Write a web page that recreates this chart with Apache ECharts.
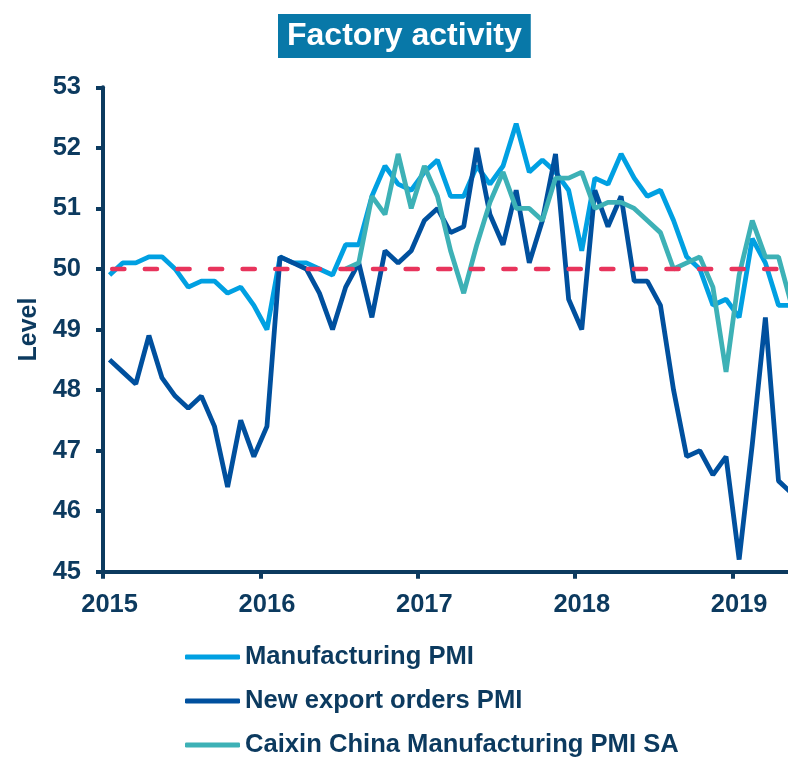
<!DOCTYPE html>
<html>
<head>
<meta charset="utf-8">
<script src="https://cdn.jsdelivr.net/npm/echarts@6/dist/echarts.min.js"></script>
<style>
html, body { margin: 0; padding: 0; background: #ffffff; }
#chart { width: 788px; height: 759px; }
</style>
</head>
<body>
<div id="chart"></div>
<script>
// ---- Data (monthly readings, first point = first month shown) ----
const startYear = 2015;
const yearTicks = [2015, 2016, 2017, 2018, 2019];
const yTicks = [45, 46, 47, 48, 49, 50, 51, 52, 53];
const seriesNames = ['Manufacturing PMI', 'New export orders PMI', 'Caixin China Manufacturing PMI SA'];

const manufacturingPMI = [
  49.9, 50.1, 50.1, 50.2, 50.2, 50.0, 49.7, 49.8, 49.8, 49.6, 49.7,
  49.4, 49.0, 50.2, 50.1, 50.1, 50.0, 49.9, 50.4, 50.4, 51.2, 51.7, 51.4,
  51.3, 51.6, 51.8, 51.2, 51.2, 51.7, 51.4, 51.7, 52.4, 51.6, 51.8, 51.6,
  51.3, 50.3, 51.5, 51.4, 51.9, 51.5, 51.2, 51.3, 50.8, 50.2, 50.0, 49.4,
  49.5, 49.2, 50.5, 50.1, 49.4, 49.4
];

const newExportOrdersPMI = [
  48.5, 48.3, 48.1, 48.9, 48.2, 47.9, 47.7, 47.9, 47.4, 46.4, 47.5,
  46.9, 47.4, 50.2, 50.1, 50.0, 49.6, 49.0, 49.7, 50.1, 49.2, 50.3, 50.1,
  50.3, 50.8, 51.0, 50.6, 50.7, 52.0, 50.9, 50.4, 51.3, 50.1, 50.8, 51.9,
  49.5, 49.0, 51.3, 50.7, 51.2, 49.8, 49.8, 49.4, 48.0, 46.9, 47.0, 46.6,
  46.9, 45.2, 47.1, 49.2, 46.5, 46.3
];

const caixinStartIndex = 18;
const caixinPMI = [
  50.0, 50.1, 51.2, 50.9, 51.9,
  51.0, 51.7, 51.2, 50.3, 49.6, 50.4, 51.1, 51.6, 51.0, 51.0, 50.8, 51.5,
  51.5, 51.6, 51.0, 51.1, 51.1, 51.0, 50.8, 50.6, 50.0, 50.1, 50.2, 49.7,
  48.3, 49.9, 50.8, 50.2, 50.2, 49.4
];

const thresholdLevel = 50;

// ---- Build ----
const xMin = 2015;
const xMax = 2019.352;
const monthX = i => startYear + (i + 0.5) / 12;
const toPoints = (arr, offset) => arr.map((v, i) => [monthX(i + offset), v]);

const navy = '#0c3a5f';
const font = '"Liberation Sans", Arial, sans-serif';
const legendTops = [644, 688, 732];

const chart = echarts.init(document.getElementById('chart'), null, { renderer: 'canvas' });

chart.setOption({
  animation: false,
  backgroundColor: '#ffffff',
  title: {
    text: 'Factory activity',
    left: 278,
    top: 14,
    backgroundColor: '#0878a8',
    padding: [5, 9, 5, 9],
    textStyle: {
      color: '#ffffff',
      fontFamily: font,
      fontWeight: 'bold',
      fontSize: 32,
      lineHeight: 34
    }
  },
  legend: seriesNames.map((name, k) => ({
    orient: 'vertical',
    left: 185,
    top: legendTops[k],
    padding: 0,
    itemWidth: 55,
    itemHeight: 5,
    icon: 'roundRect',
    data: [name],
    textStyle: {
      color: navy,
      fontFamily: font,
      fontWeight: 'bold',
      fontSize: 25.6,
      lineHeight: 26
    }
  })),
  grid: {
    left: 103,
    right: 0,
    top: 87.3,
    bottom: 187.3,
    containLabel: false
  },
  xAxis: {
    type: 'value',
    min: xMin,
    max: xMax,
    interval: 1,
    splitLine: { show: false },
    axisLine: { show: true, lineStyle: { color: navy, width: 4 } },
    axisTick: {
      show: true,
      length: 7,
      lineStyle: { color: navy, width: 4 },
      customValues: yearTicks
    },
    axisLabel: {
      customValues: yearTicks.map(y => y + 0.5 / 12),
      formatter: v => String(Math.floor(v + 1e-6)),
      color: navy,
      fontFamily: font,
      fontWeight: 'bold',
      fontSize: 25.5,
      margin: 20
    }
  },
  yAxis: {
    type: 'value',
    min: 45,
    max: 53,
    interval: 1,
    name: 'Level',
    nameLocation: 'middle',
    nameGap: 61,
    nameTextStyle: {
      color: navy,
      fontFamily: font,
      fontWeight: 'bold',
      fontSize: 25
    },
    splitLine: { show: false },
    axisLine: { show: true, lineStyle: { color: navy, width: 4 } },
    axisTick: { show: true, length: 7, lineStyle: { color: navy, width: 4 } },
    axisLabel: {
      color: navy,
      fontFamily: font,
      fontWeight: 'bold',
      fontSize: 25.5,
      margin: 22
    }
  },
  series: [
    {
      name: seriesNames[0],
      type: 'line',
      data: toPoints(manufacturingPMI, 0),
      symbol: 'none',
      color: '#00a0e2',
      lineStyle: { width: 4.8, color: '#00a0e2' },
      z: 2
    },
    {
      name: seriesNames[1],
      type: 'line',
      data: toPoints(newExportOrdersPMI, 0),
      symbol: 'none',
      color: '#00509e',
      lineStyle: { width: 4.8, color: '#00509e' },
      z: 3
    },
    {
      name: seriesNames[2],
      type: 'line',
      data: toPoints(caixinPMI, caixinStartIndex),
      symbol: 'none',
      color: '#3db1b6',
      lineStyle: { width: 4.8, color: '#3db1b6' },
      z: 4
    },
    {
      name: 'threshold',
      type: 'line',
      data: [[xMin, thresholdLevel], [xMax, thresholdLevel]],
      symbol: 'none',
      silent: true,
      color: '#e8345c',
      lineStyle: {
        width: 4.5,
        color: '#e8345c',
        type: [12.2, 20.4],
        dashOffset: 23.4,
        cap: 'round'
      },
      z: 5
    }
  ]
});
</script>
</body>
</html>
